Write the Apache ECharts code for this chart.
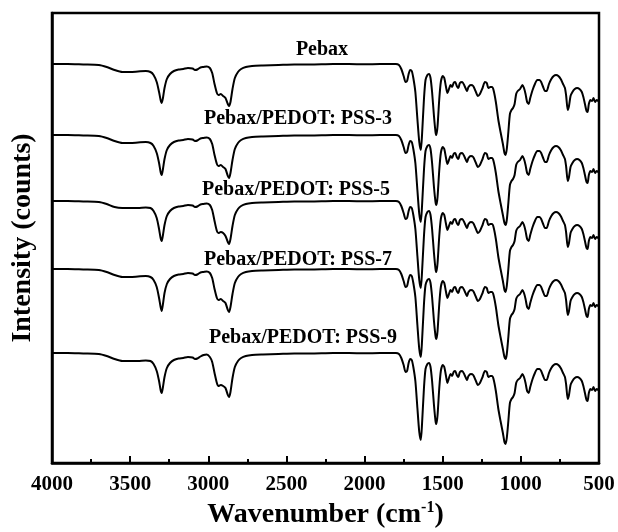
<!DOCTYPE html>
<html><head><meta charset="utf-8">
<script src="https://cdn.jsdelivr.net/npm/echarts/dist/echarts.min.js"></script>
<style>html,body{margin:0;padding:0;background:#fff}#c{width:618px;height:532px}</style>
</head><body><div id="c"></div>
<script>
// Wavenumber (cm-1) sample positions
const wavenumbers = [4000,3900,3800,3700,3650,3600,3550,3500,3450,3400,
3370,3350,3330,3315,3305,3298,3290,3280,3265,3245,
3220,3190,3160,3130,3100,3085,3070,3050,3030,3010,
2990,2975,2960,2945,2935,2920,2905,2890,2875,2867,
2858,2845,2830,2810,2790,2760,2720,2650,2550,2450,
2350,2200,2100,2000,1900,1800,1780,1765,1750,1738,
1728,1718,1708,1698,1688,1675,1662,1650,1640,1632,
1620,1610,1598,1588,1578,1568,1556,1546,1540,1533,
1522,1512,1500,1490,1480,1470,1460,1450,1440,1430,
1420,1410,1400,1390,1375,1360,1345,1335,1320,1305,
1290,1275,1262,1245,1230,1218,1208,1195,1185,1175,
1160,1145,1130,1115,1105,1098,1090,1080,1070,1060,
1050,1040,1030,1020,1005,990,980,970,960,950,
940,925,910,895,880,870,860,845,835,820,
805,790,775,760,745,730,718,710,700,692,
682,670,655,640,625,610,600,590,580,573,
565,555,545,535,525,515,505,500];

// Absorption depth below each trace's baseline (a.u.)
const pebax = [0,0,0.5,1,3,6,8,8,7.5,7,
8,11,18,28,36,39,34,24,15,10,
7,5.5,5,4,4.5,6,5.5,3.5,3,2.5,
4,9,20,29,31,30,32,34,40,42,
38,25,14,8,5,3,2,1.5,1,0.5,
0.5,0,0,0.3,0,0,1,5,12,18,
17,10,6,7,14,28,55,78,86,70,
35,16,11,10,14,28,52,68,71,62,
35,18,12,14,22,29,25,21,23,19,
18,22,24,19,18,22,27,23,21,22,
27,32,30,24,18,19,24,23,23,26,
38,55,68,80,89,91,85,68,50,46,
44,40,30,27,25,21,24,30,38,40,
34,26,20,16,16,18,22,27,27,20,
15,12,11,12,15,20,24,32,46,42,
32,28,25,24,25,28,33,40,47,48,
40,36,37,34,38,36,37,38];
const pss3 = [0,0,0.5,1,3,6,8,8,7.5,7,
8,11,18,28,37,40,34,24,15,10,
7,5.5,5,4,4.5,6,5.5,3.5,3,2.5,
4,9,20,29,31,30,32,34,41,43,
38,25,14,8,5,3,2,1.5,1,0.5,
0.5,0,0,0.3,0,0,1,5,12,18,
17,10,6,7,14,28,55,79,87,70,
35,16,11,10,14,28,52,67,70,62,
35,18,12,14,22,29,25,21,23,19,
18,22,24,19,18,22,27,23,21,22,
27,32,30,24,18,19,24,23,23,26,
38,55,68,80,88,90,85,68,50,46,
44,40,30,27,25,21,24,30,38,40,
34,26,20,16,16,18,22,27,27,20,
15,12,11,12,15,20,24,32,46,42,
32,28,25,24,25,28,33,40,47,48,
40,36,37,34,38,36,37,38];
const pss5 = [0,0,0.5,1,3,6,7,7,7,6.5,
7,10,17,28,37,40,34,24,15,10,
7,5.5,5,4,4.5,6,5.5,3.5,3,2.5,
4,9,20,30,32,31,32,35,41,43,
38,25,14,8,5,3,2,1.5,1,0.5,
0.5,0,0,0.3,0,0,1,5,12,18,
17,10,6,7,14,28,55,79,87,70,
35,16,11,10,14,28,52,68,71,62,
35,18,12,14,22,29,25,21,23,19,
18,22,24,19,18,22,27,23,21,22,
27,32,30,24,18,19,24,23,23,26,
38,55,68,80,89,91,85,68,50,46,
44,40,30,27,25,21,24,30,38,40,
34,26,20,16,16,18,22,27,27,20,
15,12,11,12,15,20,24,32,46,42,
32,28,25,24,25,28,33,40,47,48,
40,36,37,34,38,36,37,38];
const pss7 = [0,0,0.5,1,3,6,8,8,7.5,7,
8,11,18,29,38,42,35,24,15,10,
7,5.5,5,4,4.5,6,5.5,3.5,3,2.5,
4,9,20,29,31,30,32,34,41,43,
38,25,14,8,5,3,2,1.5,1,0.5,
0.5,0,0,0.3,0,0,1,5,12,18,
17,10,6,7,14,28,56,80,88,71,
35,16,11,10,14,28,52,67,70,62,
35,18,12,14,22,29,25,21,23,19,
18,22,24,19,18,22,27,23,21,22,
27,32,30,24,18,19,24,23,23,26,
38,55,68,80,88,90,85,68,50,46,
44,40,30,27,25,21,24,30,38,40,
34,26,20,16,16,18,22,27,27,20,
15,12,11,12,15,20,24,32,46,42,
32,28,25,24,25,28,33,40,47,48,
40,36,37,34,38,36,37,38];
const pss9 = [0,0,0.5,1,3,6,8,8,8,7.5,
8,11,18,28,37,40,34,24,15,10,
7,5.5,5,4,4.5,6,5.5,3.5,2,1.5,
4,9,20,30,33,32,33,35,42,44,
39,25,14,8,5,3,2,1.5,1,0.5,
0.5,0,0,0.3,0,0,1,5,12,19,
18,10,6,7,14,28,55,79,87,70,
35,16,11,10,14,28,52,68,71,62,
35,18,12,14,22,30,25,21,23,19,
18,22,24,19,18,22,27,23,21,22,
27,32,30,24,18,19,24,23,23,26,
38,55,68,80,89,91,85,68,50,46,
44,40,30,27,25,21,24,30,38,40,
34,26,20,16,16,18,22,27,27,20,
15,12,11,12,15,20,24,32,46,42,
32,28,25,24,25,28,33,40,47,48,
40,36,37,34,38,36,37,38];

const seriesNames = ['Pebax','Pebax/PEDOT: PSS-3','Pebax/PEDOT: PSS-5','Pebax/PEDOT: PSS-7','Pebax/PEDOT: PSS-9'];
const seriesDepths = [pebax, pss3, pss5, pss7, pss9];
// vertical offsets used to stack the traces (a.u.)
const offsets = [399, 328, 262, 194, 110];

const FONT = '"Liberation Serif","Times New Roman",serif';
const chart = echarts.init(document.getElementById('c'));

const series = seriesNames.map((name, k) => ({
  name: name,
  type: 'line',
  smooth: 0.25,
  symbol: 'none',
  lineStyle: {color: '#000', width: 2},
  data: wavenumbers.map((w, i) => [w, offsets[k] - seriesDepths[k][i]]),
  silent: true
}));

const labelPos = [[322, 50], [298, 119], [296, 190], [298, 260], [303, 338]];
const graphic = seriesNames.map((name, k) => ({
  type: 'text',
  x: labelPos[k][0], y: labelPos[k][1],
  style: {text: name, fill: '#000', font: 'bold 20px ' + FONT, textAlign: 'center', textVerticalAlign: 'middle'}
}));

chart.setOption({
  animation: false,
  backgroundColor: '#fff',
  grid: {left: 52, right: 19, top: 13, bottom: 69, containLabel: false, outerBoundsMode: 'none',
    show: true, borderColor: '#000', borderWidth: 2.5, backgroundColor: 'transparent'},
  xAxis: {
    type: 'value', inverse: true, min: 500, max: 4000, interval: 500,
    name: 'Wavenumber (cm{sup|-1})',
    nameLocation: 'middle', nameGap: 37,
    nameTextStyle: {color: '#000', fontFamily: FONT, fontWeight: 'bold', fontSize: 28, lineHeight: 30,
      rich: {sup: {fontFamily: FONT, fontWeight: 'bold', fontSize: 16, verticalAlign: 'top', lineHeight: 30, color: '#000'}}},
    axisLine: {lineStyle: {color: '#000', width: 2.5}},
    axisTick: {inside: true, length: 7, lineStyle: {color: '#000', width: 2}},
    minorTick: {show: true, splitNumber: 2, length: 4, lineStyle: {color: '#000', width: 2}},
    axisLabel: {color: '#000', fontFamily: FONT, fontWeight: 'bold', fontSize: 21, margin: 11,
      showMinLabel: true, showMaxLabel: true, formatter: v => String(v)},
    splitLine: {show: false}, minorSplitLine: {show: false}
  },
  yAxis: {
    type: 'value', min: 0, max: 450,
    name: 'Intensity (counts)', nameLocation: 'middle', nameGap: 15, nameRotate: 90,
    nameTextStyle: {color: '#000', fontFamily: FONT, fontWeight: 'bold', fontSize: 28},
    axisLine: {show: true, lineStyle: {color: '#000', width: 2.5}},
    axisTick: {show: false}, axisLabel: {show: false}, splitLine: {show: false}
  },
  graphic: graphic,
  series: series
});
</script>
</body></html>
